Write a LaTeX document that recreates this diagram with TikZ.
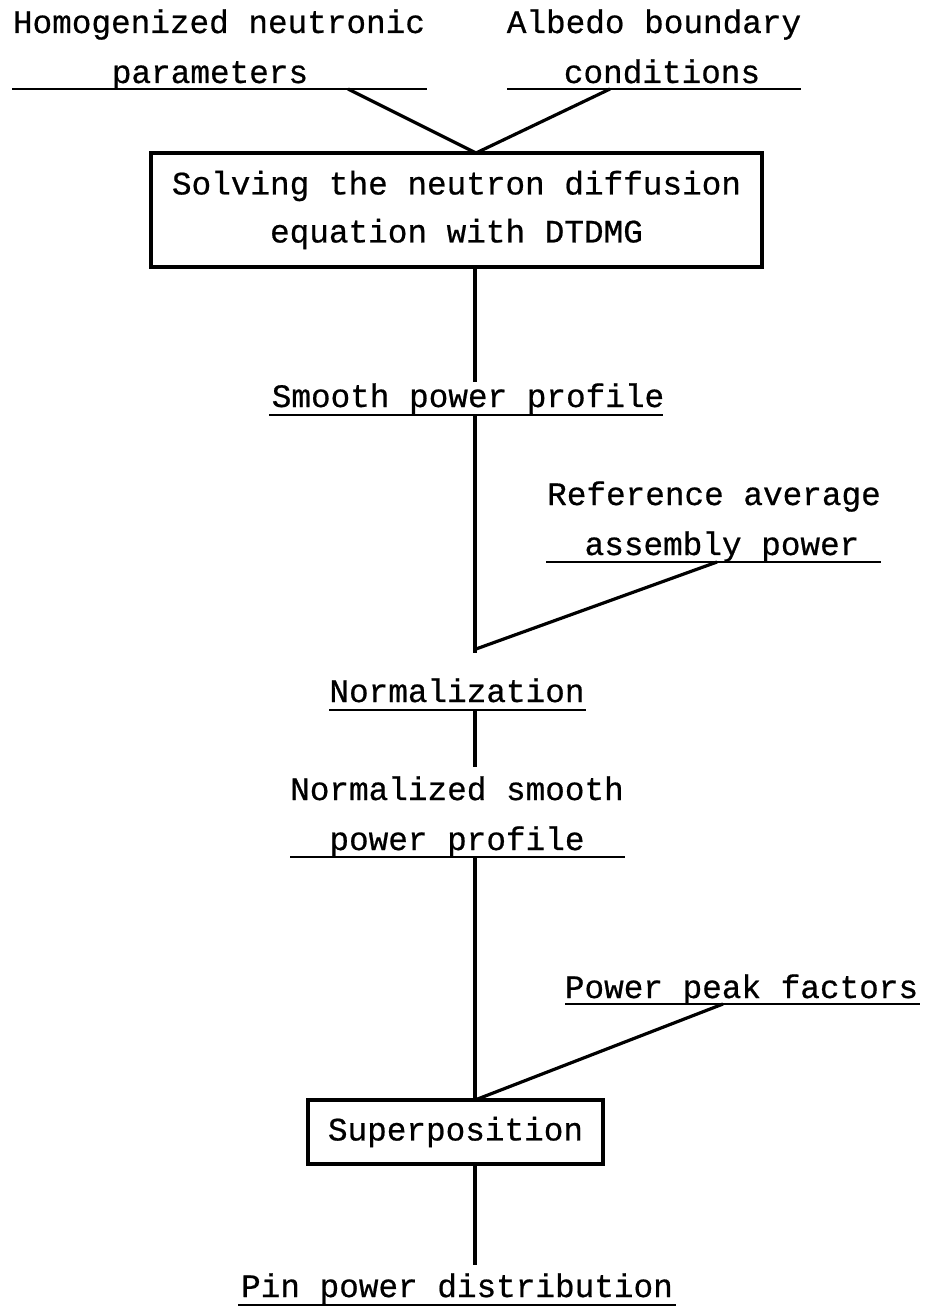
\documentclass[tikz,border=0pt]{standalone}
\usepackage{fontspec}
\newfontfamily\tw[FakeBold=0.6]{Liberation Mono}
\begin{document}
\begin{tikzpicture}[x=1pt,y=-1pt,
  txt/.style={font=\tw\fontsize{32.7}{48}\selectfont, inner sep=0pt, anchor=base},
  box/.style={draw, line width=3.2pt, inner sep=0pt, align=center, font=\tw\fontsize{32.7}{48}\selectfont},
  conn/.style={line width=3.2pt},
  ul/.style={line width=2.4pt}]
\useasboundingbox (0,0) rectangle (924,1313);

% inputs at the top
\node[txt] (hom1) at (219,33) {Homogenized neutronic};
\node[txt] (hom2) at (210,83) {parameters};
\node[txt] (alb1) at (654,33) {Albedo boundary};
\node[txt] (alb2) at (662,83) {conditions};
\draw[ul] (12,89) -- (427,89);
\draw[ul] (507,89) -- (801,89);
\coordinate (hj) at (348,89);
\coordinate (aj) at (610,89);

% solver box
\node[box, minimum width=611pt, minimum height=114pt] (solve) at (456.5,210) {Solving the neutron diffusion\\equation with DTDMG};
\coordinate (sin) at (476,153);
\draw[conn] (hj) -- (sin);
\draw[conn] (aj) -- (sin);

% smooth power profile
\node[txt] (smooth) at (468,407) {Smooth power profile};
\draw[ul] (269,415) -- (663,415);
\coordinate (sout) at (475,267);
\coordinate (stop) at (475,382);
\draw[conn] (sout) -- (stop);
\coordinate (smu) at (475,415);
\coordinate (spend) at (475,653);
\draw[conn] (smu) -- (spend);

% reference average assembly power
\node[txt] (ref1) at (714,505) {Reference average};
\node[txt] (ref2) at (722,555) {assembly power};
\draw[ul] (546,562) -- (881,562);
\coordinate (rj) at (717,562);
\coordinate (nj) at (476,649);
\draw[conn] (rj) -- (nj);

% normalization
\node[txt] (norm) at (457,702) {Normalization};
\draw[ul] (329,710) -- (586,710);
\coordinate (nu) at (475,710);
\coordinate (nse) at (475,767);
\draw[conn] (nu) -- (nse);

% normalized smooth power profile
\node[txt] (ns1) at (457,800) {Normalized smooth};
\node[txt] (ns2) at (457,850) {power profile};
\draw[ul] (290,857) -- (625,857);
\coordinate (nsu) at (475,857);

% superposition
\node[box, minimum width=295pt, minimum height=64pt] (sup) at (455.5,1132) {Superposition};
\coordinate (supn) at (475,1100);
\draw[conn] (nsu) -- (supn);

% power peak factors
\node[txt] (ppf) at (741.5,998) {Power peak factors};
\draw[ul] (565,1004) -- (920,1004);
\coordinate (pj) at (723,1004);
\draw[conn] (pj) -- (supn);

% pin power distribution
\node[txt] (pin) at (457,1297) {Pin power distribution};
\draw[ul] (238,1305) -- (676,1305);
\coordinate (sups) at (475,1164);
\coordinate (pine) at (475,1265);
\draw[conn] (sups) -- (pine);
\end{tikzpicture}
\end{document}
